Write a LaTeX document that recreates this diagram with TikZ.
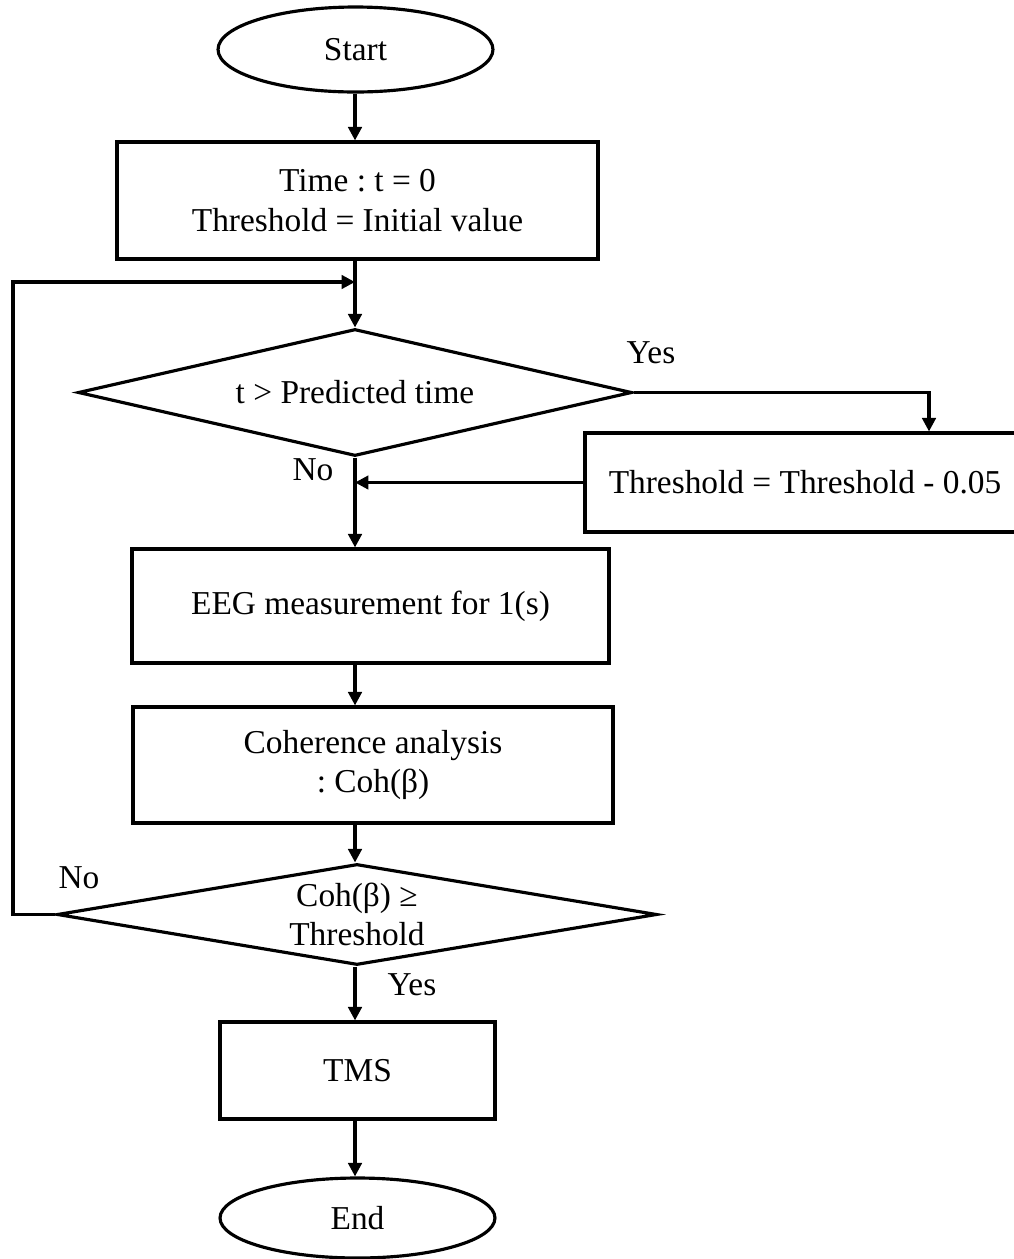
\documentclass[tikz,border=0pt]{standalone}
\usepackage{fontspec}
\setmainfont{Liberation Serif}
\usetikzlibrary{arrows.meta, shapes.geometric}
\frenchspacing

\begin{document}
\begin{tikzpicture}[
    x=0.02cm, y=-0.02cm,
    every node/.style={font=\fontsize{19}{22.5}\selectfont},
    pbox/.style={rectangle, draw, line width=1.8pt, inner sep=0pt, align=center},
    term/.style={ellipse, draw, line width=1.8pt, inner sep=0pt, minimum width=5.5cm},
    cond/.style={diamond, draw, line width=1.8pt, inner sep=0pt, align=center},
    arr/.style={-{Triangle[length=0.27cm, width=0.27cm]}, line width=1.8pt},
    lbl/.style={anchor=base, inner sep=0pt}
  ]
    \useasboundingbox (0,0) rectangle (1014,1259);

    \node[term, minimum height=1.7cm] (start) at (355.5,49.5) {Start};
    \node[pbox, minimum width=9.62cm, minimum height=2.34cm] (init) at (357.5,200.5) {Time : t = 0\\Threshold = Initial value};
    \node[cond, minimum width=11.08cm, minimum height=2.54cm, aspect=4.4] (check) at (355,392.5) {t > Predicted time};
    \node[pbox, minimum width=8.8cm, minimum height=1.98cm] (lower) at (805,482.5) {Threshold = Threshold - 0.05};
    \node[pbox, minimum width=9.54cm, minimum height=2.28cm] (eeg) at (370.5,606) {EEG measurement for 1(s)};
    \node[pbox, minimum width=9.6cm, minimum height=2.32cm] (coh) at (373,765) {Coherence analysis\\: Coh(β)};
    \node[cond, minimum width=12cm, minimum height=2.02cm, aspect=6] (cmp) at (357,914.5) {Coh(β) ≥\\Threshold};
    \node[pbox, minimum width=5.5cm, minimum height=1.94cm] (tms) at (357.5,1070.5) {TMS};
    \node[term, minimum height=1.6cm] (finish) at (357.5,1218) {End};

    \node[lbl] (yes1) at (651,363) {Yes};
    \node[lbl] (no1) at (313,480) {No};
    \node[lbl] (no2) at (79,888) {No};
    \node[lbl] (yes2) at (412,995) {Yes};

    \coordinate (axis) at (355,0);
    \coordinate (merge) at (355,282);
    \coordinate (back) at (13,282);
    \coordinate (yesx) at (929,0);

    \draw[arr] (start.south -| axis) -- (init.north -| axis);
    \draw[arr] (init.south -| axis) -- (check.north);
    \draw[arr] (cmp.west) -| (back) -- (merge);
    \draw[arr] (check.east) -| (yesx |- lower.north);
    \draw[arr] (lower.west) -- (lower.west -| axis);
    \draw[arr] (check.south) -- (eeg.north -| axis);
    \draw[arr] (eeg.south -| axis) -- (coh.north -| axis);
    \draw[arr] (coh.south -| axis) -- (cmp.north -| axis);
    \draw[arr] (cmp.south -| axis) -- (tms.north -| axis);
    \draw[arr] (tms.south -| axis) -- (finish.north -| axis);
  \end{tikzpicture}
\end{document}
